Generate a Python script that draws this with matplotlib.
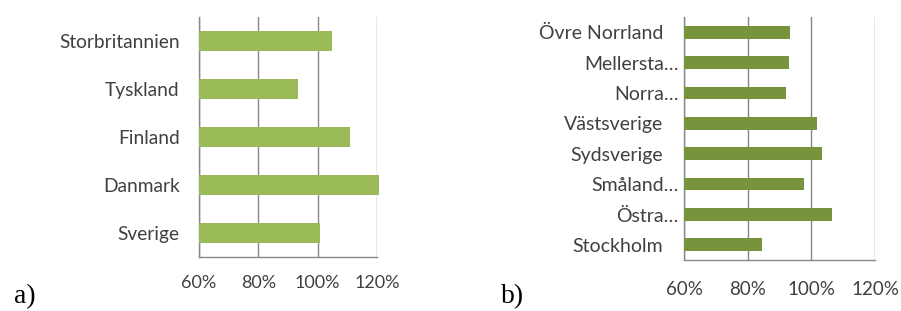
import matplotlib
matplotlib.use("Agg")
import matplotlib.pyplot as plt
from matplotlib.ticker import FuncFormatter

countries = ["Storbritannien", "Tyskland", "Finland", "Danmark", "Sverige"]
country_vals = [104.8, 93.5, 110.9, 120.6, 100.8]

regions = ["Övre Norrland", "Mellersta…", "Norra…", "Västsverige",
           "Sydsverige", "Småland…", "Östra…", "Stockholm"]
region_vals = [93.3, 92.8, 92.0, 101.8, 103.4, 97.7, 106.6, 84.4]

xticks = [60, 80, 100, 120]
AXIS_MIN, AXIS_MAX = 60, 120

W, H = 901, 311
fig = plt.figure(figsize=(W / 100, H / 100), dpi=100)

FONT = "Lato"
TXT = "#404040"
GRID = "#878787"


def style(ax, label_pads, ysize, xsize):
    ax.set_xlim(AXIS_MIN, AXIS_MAX)
    ax.set_xticks(xticks)
    ax.xaxis.set_major_formatter(FuncFormatter(lambda v, p: f"{v:.0f}%"))
    ax.grid(axis="x", color=GRID, linewidth=1.0)
    ax.set_axisbelow(True)
    for s in ["top", "right"]:
        ax.spines[s].set_visible(False)
    for s in ["left", "bottom"]:
        ax.spines[s].set_color(GRID)
        ax.spines[s].set_linewidth(1.0)
    ax.tick_params(axis="both", length=0, colors=TXT)
    ax.tick_params(axis="y", labelsize=ysize)
    ax.tick_params(axis="x", labelsize=xsize)
    for lab in ax.get_xticklabels() + ax.get_yticklabels():
        lab.set_fontfamily(FONT)
    for tick, pad in zip(ax.yaxis.get_major_ticks(), label_pads):
        tick.set_pad(pad)


ax1 = fig.add_axes([199 / W, (H - 257) / H, (377 - 199) / W, (257 - 17) / H])
ax1.barh(range(len(countries)), [v - AXIS_MIN for v in country_vals],
         left=AXIS_MIN, height=0.4, color="#9BBB59", zorder=3, clip_on=False)
ax1.set_yticks(range(len(countries)))
ax1.set_yticklabels(countries)
ax1.set_ylim(len(countries) - 0.5, -0.5)
style(ax1, [14] * len(countries), 13.8, 13)
ax1.tick_params(axis="x", pad=13)

ax2 = fig.add_axes([684.3 / W, (H - 260) / H, (875 - 684.3) / W, (260 - 17) / H])
ax2.barh(range(len(regions)), [v - AXIS_MIN for v in region_vals],
         left=AXIS_MIN, height=0.42, color="#77933C", zorder=3, clip_on=False)
ax2.set_yticks(range(len(regions)))
ax2.set_yticklabels(regions)
ax2.set_ylim(len(regions) - 0.5, -0.5)
pads2 = [4 if "…" in r else 15 for r in regions]
style(ax2, pads2, 14, 13.5)
ax2.tick_params(axis="x", pad=15)

fig.text(14 / W, 1 - 297 / H, "a)", family="Liberation Serif", fontsize=20,
         va="center", ha="left", color="black")
fig.text(501 / W, 1 - 297 / H, "b)", family="Liberation Serif", fontsize=20,
         va="center", ha="left", color="black")

fig.savefig("out.png", dpi=100)
